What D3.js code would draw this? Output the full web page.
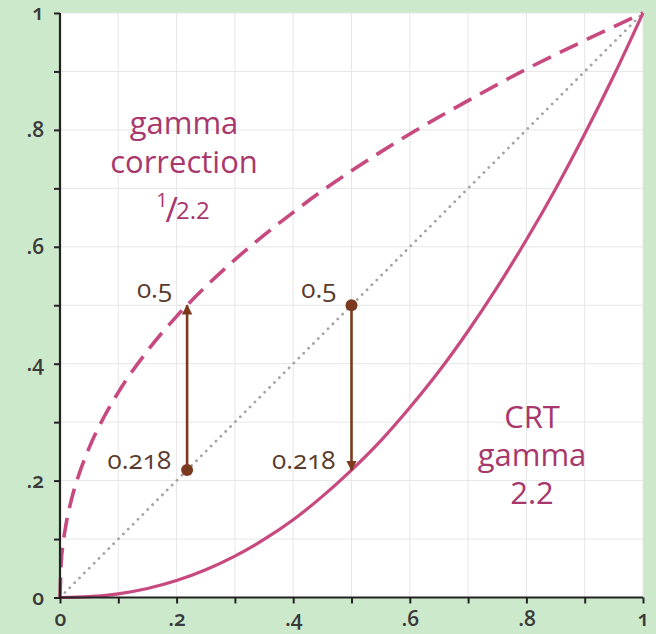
<!DOCTYPE html>
<html>
<head>
<meta charset="utf-8">
<script src="https://cdn.jsdelivr.net/npm/d3@7"></script>
<style>
  html, body { margin: 0; padding: 0; background: #cde9cc; }
  svg { display: block; }
  text { font-family: "Open Sans", "Noto Sans", sans-serif; }
  .onum { font-variant-numeric: oldstyle-nums; }
</style>
</head>
<body>
<svg id="chart" width="656" height="634"></svg>
<script>
// ---- data ----
const xTickValues = [0, 0.1, 0.2, 0.3, 0.4, 0.5, 0.6, 0.7, 0.8, 0.9, 1];
const tickLabels = ["0", "", ".2", "", ".4", "", ".6", "", ".8", "", "1"];

// CRT gamma 2.2 curve (solid)
const crtX = [0, 0.05, 0.1, 0.15, 0.2, 0.25, 0.3, 0.35, 0.4, 0.45, 0.5, 0.55, 0.6, 0.65, 0.7, 0.75, 0.8, 0.85, 0.9, 0.95, 1];
const crtY = [0, 0.0014, 0.0063, 0.0155, 0.029, 0.0474, 0.0707, 0.0993, 0.133, 0.173, 0.218, 0.268, 0.325, 0.387, 0.456, 0.531, 0.612, 0.699, 0.793, 0.893, 1];

// gamma correction 1/2.2 curve (dashed)
const corrX = [0, 0.002, 0.005, 0.01, 0.02, 0.03, 0.05, 0.075, 0.1, 0.15, 0.2, 0.25, 0.3, 0.35, 0.4, 0.45, 0.5, 0.6, 0.7, 0.8, 0.9, 1];
const corrY = [0, 0.059, 0.090, 0.123, 0.169, 0.203, 0.256, 0.308, 0.351, 0.422, 0.481, 0.532, 0.578, 0.620, 0.659, 0.696, 0.730, 0.793, 0.850, 0.904, 0.953, 1];

// identity diagonal (dotted)
const diagX = [0, 1];
const diagY = [0, 1];

// arrows: x, from y, to y
const arrowX = [0.218, 0.5];
const arrowFrom = [0.218, 0.5];
const arrowTo = [0.5, 0.218];
const arrowTopLabels = ["0.5", "0.5"];
const arrowBottomLabels = ["0.218", "0.218"];

// curve labels
const corrLabel = ["gamma", "correction"];
const corrFraction = ["1", "/", "2.2"];
const crtLabel = ["CRT", "gamma", "2.2"];

// ---- layout ----
const svg = d3.select("#chart");
const x = d3.scaleLinear().domain([0, 1]).range([60, 643]);
const y = d3.scaleLinear().domain([0, 1]).range([597.5, 13]);

const curveColor = "#c8497f";
const labelColor = "#a8386c";
const brown = "#7b3a1e";
const brownText = "#5a3b2c";
const axisColor = "#222";

// plot background
svg.append("rect")
  .attr("x", x(0)).attr("y", y(1))
  .attr("width", x(1) - x(0)).attr("height", y(0) - y(1))
  .attr("fill", "#ffffff");

// grid
const grid = svg.append("g");
grid.selectAll("line.v").data(xTickValues.slice(1)).join("line")
  .attr("x1", d => x(d)).attr("x2", d => x(d))
  .attr("y1", y(0)).attr("y2", y(1))
  .attr("stroke", "#e6e6e9").attr("stroke-width", 1);
grid.selectAll("line.h").data(xTickValues.slice(1)).join("line")
  .attr("y1", d => y(d)).attr("y2", d => y(d))
  .attr("x1", x(0)).attr("x2", x(1))
  .attr("stroke", "#e6e6e9").attr("stroke-width", 1);

// diagonal
const line = d3.line().x(d => x(d[0])).y(d => y(d[1]));
svg.append("path")
  .datum(d3.zip(diagX, diagY))
  .attr("d", line)
  .attr("fill", "none")
  .attr("stroke", "#a4a4a4")
  .attr("stroke-width", 2.8)
  .attr("stroke-linecap", "round")
  .attr("stroke-dasharray", "0.1 6.8");

const curveLine = d3.line().x(d => x(d[0])).y(d => y(d[1])).curve(d3.curveMonotoneX);

// CRT curve
svg.append("path")
  .datum(d3.zip(crtX, crtY))
  .attr("d", curveLine)
  .attr("fill", "none")
  .attr("stroke", curveColor)
  .attr("stroke-width", 3.2);

// correction curve
svg.append("path")
  .datum(d3.zip(corrX, corrY))
  .attr("d", curveLine)
  .attr("fill", "none")
  .attr("stroke", curveColor)
  .attr("stroke-width", 3.6)
  .attr("stroke-dasharray", "20 10");

// axes
const fmt = (d, i) => tickLabels[i];
const xAxis = d3.axisBottom(x).tickValues(xTickValues).tickFormat(fmt).tickSize(6).tickPadding(8);
const yAxis = d3.axisLeft(y).tickValues(xTickValues).tickFormat(fmt).tickSize(6).tickPadding(10);

const gx = svg.append("g").attr("transform", `translate(0,${y(0)})`).call(xAxis);
const gy = svg.append("g").attr("transform", `translate(${x(0)},0)`).call(yAxis);
[gx, gy].forEach(g => {
  g.select(".domain").attr("stroke", axisColor).attr("stroke-width", 2.2);
  g.selectAll(".tick line").attr("stroke", axisColor).attr("stroke-width", 2);
  g.selectAll(".tick text")
    .attr("class", "onum")
    .attr("fill", "#3a3a3a")
    .style("font-size", "21px")
    .style("font-weight", "600");
});
gx.select(".domain").attr("d", `M${x(0)},0H${x(1)}`);
gy.select(".domain").attr("d", `M0,${y(0)}V${y(1)}`);

// arrows
const defs = svg.append("defs");
defs.append("marker")
  .attr("id", "ah")
  .attr("viewBox", "0 0 10 10")
  .attr("refX", 9).attr("refY", 5)
  .attr("markerWidth", 4).attr("markerHeight", 4.5)
  .attr("markerUnits", "strokeWidth")
  .attr("orient", "auto")
  .append("path").attr("d", "M0,0L10,5L0,10Z").attr("fill", brown);

const arrows = svg.append("g");
arrowX.forEach((ax, i) => {
  arrows.append("line")
    .attr("x1", x(ax)).attr("x2", x(ax))
    .attr("y1", y(arrowFrom[i])).attr("y2", y(arrowTo[i]))
    .attr("stroke", brown).attr("stroke-width", 2.6)
    .attr("marker-end", "url(#ah)");
  arrows.append("circle")
    .attr("cx", x(ax)).attr("cy", y(arrowFrom[i]))
    .attr("r", 6).attr("fill", brown);
  arrows.append("text")
    .attr("class", "onum")
    .attr("x", x(ax) - 15).attr("y", y(0.5) - 7)
    .attr("text-anchor", "end")
    .attr("fill", brownText)
    .style("font-size", "26px").style("font-weight", "500")
    .text(arrowTopLabels[i]);
  arrows.append("text")
    .attr("class", "onum")
    .attr("x", x(ax) - 16).attr("y", y(0.218) - 1)
    .attr("text-anchor", "end")
    .attr("fill", brownText)
    .style("font-size", "26px").style("font-weight", "500")
    .text(arrowBottomLabels[i]);
});

// curve labels
const lab1 = svg.append("text")
  .attr("fill", labelColor)
  .attr("text-anchor", "middle")
  .style("font-size", "31px");
corrLabel.forEach((t, i) => {
  lab1.append("tspan").attr("x", 184).attr("y", 134 + i * 39).text(t);
});
const frac = svg.append("text")
  .attr("fill", labelColor)
  .attr("text-anchor", "middle")
  .attr("x", 183).attr("y", 219);
frac.append("tspan").style("font-size", "20px").attr("dy", -12).text(corrFraction[0]);
frac.append("tspan").style("font-size", "34px").attr("dy", 15).attr("dx", -2).text(corrFraction[1]);
frac.append("tspan").style("font-size", "24px").attr("dy", -3).attr("dx", -2).text(corrFraction[2]);

const lab2 = svg.append("text")
  .attr("fill", labelColor)
  .attr("text-anchor", "middle")
  .style("font-size", "31px");
crtLabel.forEach((t, i) => {
  lab2.append("tspan").attr("x", 532).attr("y", 428 + i * 38).text(t);
});
</script>
</body>
</html>
